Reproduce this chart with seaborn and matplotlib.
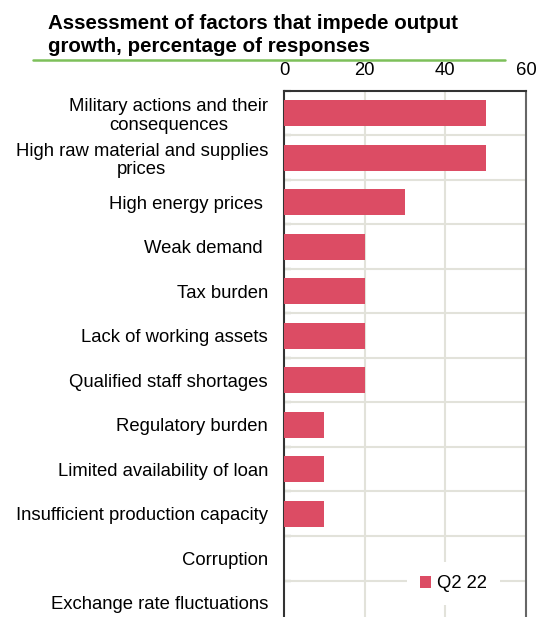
import matplotlib
matplotlib.use("Agg")
import matplotlib.pyplot as plt
import seaborn as sns
import pandas as pd
import numpy as np
from matplotlib.lines import Line2D
from matplotlib.patches import Patch

categories = [
    "Military actions and their\nconsequences",
    "High raw material and supplies\nprices",
    "High energy prices ",
    "Weak demand ",
    "Tax burden",
    "Lack of working assets",
    "Qualified staff shortages",
    "Regulatory burden",
    "Limited availability of loan",
    "Insufficient production capacity",
    "Corruption",
    "Exchange rate fluctuations",
]
values = [50, 50, 30, 20, 20, 20, 20, 10, 10, 10, 0, 0]
series_name = "Q2 22"
x_ticks = [0, 20, 40, 60]

sns.set_style("white")
plt.rcParams['font.family'] = ['Liberation Sans', 'DejaVu Sans']
plt.rcParams['text.color'] = 'black'
plt.rcParams['xtick.color'] = 'black'
plt.rcParams['ytick.color'] = 'black'

df = pd.DataFrame({"factor": categories, "value": values, "series": series_name})

fig = plt.figure(figsize=(5.44, 6.17), dpi=100)
ax = fig.add_axes([284/544, 1 - 625/617, (526-284)/544, (625-91)/617])

bar_color = "#DC4C64"
sns.barplot(data=df, y="factor", x="value", hue="series", palette=[bar_color],
            orient="h", width=0.58, ax=ax, legend=False, zorder=3,
            saturation=1, linewidth=0)

ax.set_xlim(0, 60)
ax.set_ylim(len(categories) - 0.5, -0.5)
ax.set_xlabel("")
ax.set_ylabel("")

fs = 13.3
ax.xaxis.tick_top()
ax.set_xticks(x_ticks)
ax.set_xticklabels([str(t) for t in x_ticks], fontsize=fs)
ax.tick_params(axis="x", which="major", direction="in", length=4, width=1.2,
               color="#555555", pad=8.5, top=True, bottom=False)

ax.set_yticks(range(len(categories)))
ax.set_yticklabels(categories, fontsize=fs, ha="right", multialignment="center",
                   linespacing=1.12)
ax.tick_params(axis="y", which="major", length=0, pad=11.5)
ax.set_yticks(np.arange(len(categories) + 1) - 0.5, minor=True)
ax.tick_params(axis="y", which="minor", direction="in", length=5, width=1.5,
               color="#222222", left=True)

grid_color = "#E2E2DA"
ax.grid(False)
for xv in x_ticks[1:-1]:
    ax.axvline(xv, color=grid_color, lw=1.5, zorder=1)
for yv in np.arange(1, len(categories)) - 0.5:
    ax.axhline(yv, color=grid_color, lw=1.5, zorder=1)

for s in ["left", "top"]:
    ax.spines[s].set_color("#333333")
    ax.spines[s].set_linewidth(1.5)
ax.spines["right"].set_color("#666666")
ax.spines["right"].set_linewidth(1.5)
ax.spines["bottom"].set_visible(False)

handles = [Patch(facecolor=bar_color, edgecolor="none")]
leg = ax.legend(handles, [series_name], loc="center", bbox_to_anchor=(0.70, 0.077),
                frameon=True, fontsize=fs, handlelength=0.6, handleheight=0.6,
                handletextpad=0.3, borderpad=0.7, borderaxespad=0)
leg.get_frame().set_edgecolor("none")
leg.get_frame().set_facecolor("white")
leg.get_frame().set_alpha(1)
leg.set_zorder(5)

fig.text(48/544, 1 - 14/617, "Assessment of factors that impede output\ngrowth, percentage of responses",
         fontsize=14.8, fontweight="bold", ha="left", va="top", linespacing=1.28)
fig.add_artist(Line2D([33/544, 505/544], [1 - 60/617, 1 - 60/617], color="#7DC05A", lw=1.8,
                      transform=fig.transFigure))

fig.savefig("out.png", dpi=100)
